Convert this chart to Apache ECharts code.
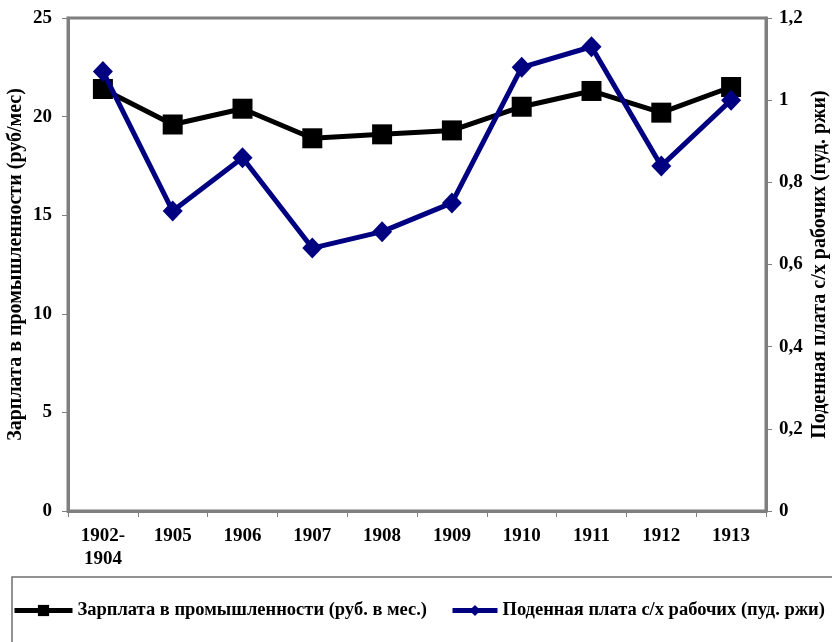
<!DOCTYPE html>
<html>
<head>
<meta charset="utf-8">
<script src="https://cdn.jsdelivr.net/npm/echarts@6/dist/echarts.min.js"></script>
<style>
  html, body { margin: 0; padding: 0; background: #fff; }
  #chart { width: 832px; height: 642px; }
</style>
</head>
<body>
<div id="chart"></div>
<script>
// Годы наблюдений
const years = ['1902-\n1904', '1905', '1906', '1907', '1908', '1909', '1910', '1911', '1912', '1913'];
// Зарплата в промышленности, руб. в месяц (левая ось)
const industryWage = [21.4, 19.6, 20.4, 18.9, 19.1, 19.3, 20.5, 21.3, 20.2, 21.5];
// Поденная плата с/х рабочих, пуд. ржи (правая ось)
const farmWage = [1.07, 0.73, 0.86, 0.64, 0.68, 0.75, 1.08, 1.13, 0.84, 1.0];

const leftTicks = [0, 5, 10, 15, 20, 25];
const rightTicks = [0, 0.2, 0.4, 0.6, 0.8, 1.0, 1.2];

const nameIndustry = 'Зарплата в промышленности (руб. в мес.)';
const nameFarm = 'Поденная плата с/х рабочих (пуд. ржи)';

const FONT = '"Liberation Serif", "Times New Roman", serif';
const AXIS_GRAY = '#7f7f7f';
const TICK_FONT = { fontFamily: FONT, fontWeight: 'bold', fontSize: 19, color: '#000' };
const NAME_FONT = { fontFamily: FONT, fontWeight: 'bold', fontSize: 20, color: '#000' };

const chart = echarts.init(document.getElementById('chart'), null, { renderer: 'canvas' });

const fmtComma = v => String(Math.round(v * 10) / 10).replace('.', ',');

const legendBase = {
  top: 601,
  padding: 0,
  itemHeight: 14,
  textStyle: { fontFamily: FONT, fontWeight: 'bold', fontSize: 18.5, color: '#000' },
  lineStyle: { width: 5 }
};

chart.setOption({
  animation: false,
  backgroundColor: '#ffffff',
  textStyle: { fontFamily: FONT },
  grid: {
    left: 68, right: 66, top: 18, bottom: 131,
    outerBoundsMode: 'none', containLabel: false,
    show: true, borderColor: AXIS_GRAY, borderWidth: 3
  },
  graphic: [{
    type: 'rect',
    shape: { x: 12, y: 577, width: 840, height: 80 },
    style: { fill: 'none', stroke: '#6f6f6f', lineWidth: 1.5 },
    z: 0
  }],
  legend: [
    Object.assign({}, legendBase, { left: 12, itemWidth: 58, data: [nameIndustry] }),
    Object.assign({}, legendBase, { left: 450, itemWidth: 45, data: [nameFarm] })
  ],
  xAxis: {
    type: 'category',
    data: years,
    boundaryGap: true,
    axisLine: { show: true, lineStyle: { color: AXIS_GRAY, width: 3 } },
    axisTick: { show: true, length: 6, lineStyle: { color: AXIS_GRAY, width: 1 } },
    axisLabel: Object.assign({ margin: 14, lineHeight: 23 }, TICK_FONT),
    splitLine: { show: false }
  },
  yAxis: [{
    type: 'value',
    position: 'left',
    min: leftTicks[0],
    max: leftTicks[leftTicks.length - 1],
    interval: 5,
    name: 'Зарплата в промышленности (руб/мес)',
    nameLocation: 'middle',
    nameRotate: 90,
    nameGap: 42,
    nameMoveOverlap: false,
    nameTextStyle: NAME_FONT,
    axisLine: { show: true, lineStyle: { color: AXIS_GRAY, width: 3 } },
    axisTick: { show: true, length: 6, lineStyle: { color: AXIS_GRAY, width: 1 } },
    axisLabel: Object.assign({ margin: 16 }, TICK_FONT),
    splitLine: { show: false }
  }, {
    type: 'value',
    position: 'right',
    min: rightTicks[0],
    max: rightTicks[rightTicks.length - 1],
    interval: 0.2,
    name: 'Поденная плата с/х рабочих (пуд. ржи)',
    nameLocation: 'middle',
    nameRotate: 90,
    nameGap: 44,
    nameMoveOverlap: false,
    nameTextStyle: NAME_FONT,
    axisLine: { show: true, lineStyle: { color: AXIS_GRAY, width: 3 } },
    axisTick: { show: true, length: 6, lineStyle: { color: AXIS_GRAY, width: 1 } },
    axisLabel: Object.assign({ margin: 13, formatter: fmtComma }, TICK_FONT),
    splitLine: { show: false }
  }],
  series: [{
    name: nameIndustry,
    type: 'line',
    yAxisIndex: 0,
    data: industryWage,
    symbol: 'rect',
    symbolSize: 20,
    lineStyle: { color: '#000', width: 5 },
    itemStyle: { color: '#000' },
    z: 3
  }, {
    name: nameFarm,
    type: 'line',
    yAxisIndex: 1,
    data: farmWage,
    symbol: 'diamond',
    symbolSize: [20, 21],
    lineStyle: { color: '#000080', width: 5 },
    itemStyle: { color: '#000080' },
    z: 4
  }]
});
</script>
</body>
</html>
